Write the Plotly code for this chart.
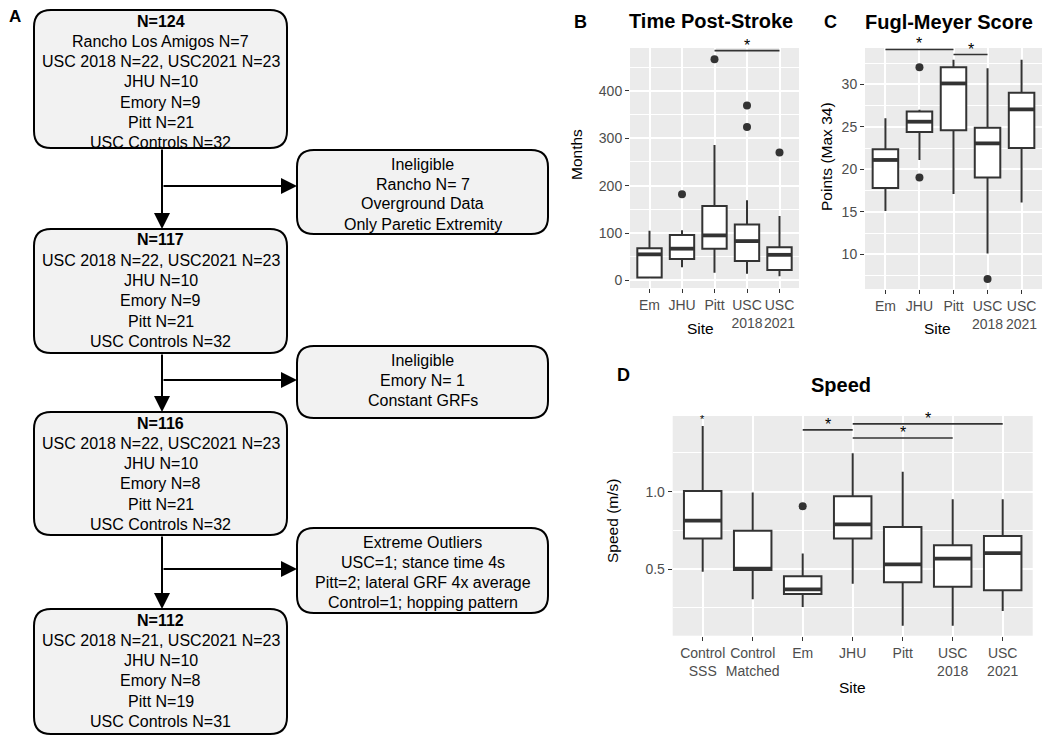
import plotly.graph_objects as go

# the page has an 8px body margin, so the figure is drawn 8px smaller
# and every reference pixel is shifted by that margin
PAGE_W, PAGE_H, PAD = 1050, 744, 8
W, H = PAGE_W - 2 * PAD, PAGE_H - 2 * PAD
FONT = "Arial, Liberation Sans, sans-serif"
DARK = "#333333"

# ---- panel B: time post-stroke (months)
b_sites = ["Em", "JHU", "Pitt", "USC<br>2018", "USC<br>2021"]
b_q1 = [6, 45, 67, 41, 22]
b_median = [55, 67, 95, 83, 54]
b_q3 = [68, 96, 157, 118, 70]
b_low = [6, 28, 16, 14, 9]
b_high = [105, 106, 286, 169, 136]
b_out_site = [1, 2, 3, 3, 4]
b_out_val = [182, 467, 369, 324, 270]
b_sig = [(2, 4, 485)]

# ---- panel C: Fugl-Meyer score
c_sites = ["Em", "JHU", "Pitt", "USC<br>2018", "USC<br>2021"]
c_q1 = [17.8, 24.4, 24.6, 19.05, 22.5]
c_median = [21.1, 25.6, 30.1, 23.05, 27.05]
c_q3 = [22.35, 26.8, 32.0, 24.9, 29.0]
c_low = [15.1, 21.1, 17.1, 10.1, 16.1]
c_high = [26.0, 27.0, 32.9, 31.9, 32.9]
c_out_site = [1, 1, 3]
c_out_val = [32.0, 19.05, 7.1]
c_sig = [(0, 2, 34.1), (2, 3, 33.5)]

# ---- panel D: speed (m/s)
d_sites = ["Control<br>SSS", "Control<br>Matched", "Em", "JHU", "Pitt", "USC<br>2018", "USC<br>2021"]
d_q1 = [0.698, 0.494, 0.338, 0.698, 0.414, 0.386, 0.362]
d_median = [0.8125, 0.502, 0.369, 0.789, 0.53, 0.567, 0.603]
d_q3 = [1.005, 0.748, 0.453, 0.971, 0.772, 0.653, 0.713]
d_low = [0.483, 0.304, 0.254, 0.405, 0.134, 0.134, 0.228]
d_high = [1.425, 0.994, 0.6, 1.248, 1.129, 0.951, 0.951]
d_out_site = [2]
d_out_val = [0.905]
d_sig = [(2, 3, 1.399), (3, 6, 1.438), (3, 5, 1.347)]
d_small_star = (0, 1.47)

# ---- panel A: flow chart text
main_boxes = [
    ["N=124", "Rancho Los Amigos N=7", "USC 2018 N=22, USC2021 N=23", "JHU N=10",
     "Emory N=9", "Pitt N=21", "USC Controls N=32"],
    ["N=117", "USC 2018 N=22, USC2021 N=23", "JHU N=10", "Emory N=9", "Pitt N=21",
     "USC Controls N=32"],
    ["N=116", "USC 2018 N=22, USC2021 N=23", "JHU N=10", "Emory N=8", "Pitt N=21",
     "USC Controls N=32"],
    ["N=112", "USC 2018 N=21, USC2021 N=23", "JHU N=10", "Emory N=8", "Pitt N=19",
     "USC Controls N=31"],
]
side_boxes = [
    ["Ineligible", "Rancho N= 7", "Overground Data", "Only Paretic Extremity"],
    ["Ineligible", "Emory N= 1", "Constant GRFs"],
    ["Extreme Outliers", "USC=1; stance time 4s", "Pitt=2; lateral GRF 4x average",
     "Control=1; hopping pattern"],
]

# pixel geometry of the flow chart (page pixels)
main_rects = [(34, 10, 287, 148), (34, 229, 287, 353), (34, 412, 287, 535), (34, 609, 287, 734)]
side_rects = [(297, 150, 548, 234), (297, 346, 548, 418), (297, 528, 548, 613)]
arrow_x = 162
branch_y = [186, 380, 569]


def px(x):
    return (x - PAD) / W


def py(y):
    return 1 - (y - PAD) / H


def rounded(x0, y0, x1, y1, r=17):
    return (f"M {px(x0 + r)},{py(y0)} L {px(x1 - r)},{py(y0)} "
            f"Q {px(x1)},{py(y0)} {px(x1)},{py(y0 + r)} L {px(x1)},{py(y1 - r)} "
            f"Q {px(x1)},{py(y1)} {px(x1 - r)},{py(y1)} L {px(x0 + r)},{py(y1)} "
            f"Q {px(x0)},{py(y1)} {px(x0)},{py(y1 - r)} L {px(x0)},{py(y0 + r)} "
            f"Q {px(x0)},{py(y0)} {px(x0 + r)},{py(y0)} Z")


fig = go.Figure()
shapes = []
annotations = []


def text(x, y, s, size, bold=False, angle=0):
    if bold:
        s = f"<b>{s}</b>"
    annotations.append(dict(
        x=px(x), y=py(y), xref="paper", yref="paper", text=s, showarrow=False,
        textangle=angle, xanchor="center", yanchor="middle",
        font=dict(family=FONT, size=size, color="black")))


# flow chart
for rect, lines in zip(main_rects, main_boxes):
    shapes.append(dict(type="path", path=rounded(*rect), xref="paper", yref="paper",
                       fillcolor="#F2F2F2", line=dict(color="black", width=2), layer="below"))
    for i, line in enumerate(lines):
        text((rect[0] + rect[2]) / 2, rect[1] + 11 + i * 20.3, line, 16, bold=(i == 0))

for rect, lines in zip(side_rects, side_boxes):
    shapes.append(dict(type="path", path=rounded(*rect), xref="paper", yref="paper",
                       fillcolor="#F2F2F2", line=dict(color="black", width=2), layer="below"))
    for i, line in enumerate(lines):
        text((rect[0] + rect[2]) / 2, rect[1] + 14 + i * 20, line, 16)

for k in range(3):
    top = main_rects[k][3]
    bottom = main_rects[k + 1][1]
    annotations.append(dict(x=px(arrow_x), y=py(bottom), xref="paper", yref="paper",
                            ax=0, ay=-(bottom - top), showarrow=True, arrowhead=2,
                            arrowsize=1.6, arrowwidth=2, arrowcolor="black", text=""))
    tip = side_rects[k][0]
    annotations.append(dict(x=px(tip), y=py(branch_y[k]), xref="paper", yref="paper",
                            ax=-(tip - arrow_x), ay=0, showarrow=True, arrowhead=2,
                            arrowsize=1.6, arrowwidth=2, arrowcolor="black", text=""))

text(14.6, 17, "A", 17, bold=True)

# box plot panels
panels = [
    dict(ax="", sites=b_sites, q1=b_q1, med=b_median, q3=b_q3, lo=b_low, hi=b_high,
         ox=b_out_site, oy=b_out_val, sig=b_sig,
         xdom=[630, 799], ydom=[48, 288], yrange=[-16, 490.5], dtick=100, minor=50, fmt="d"),
    dict(ax="2", sites=c_sites, q1=c_q1, med=c_median, q3=c_q3, lo=c_low, hi=c_high,
         ox=c_out_site, oy=c_out_val, sig=c_sig,
         xdom=[865, 1042], ydom=[48, 289], yrange=[5.92, 34.27], dtick=5, minor=2.5, fmt="d"),
    dict(ax="3", sites=d_sites, q1=d_q1, med=d_median, q3=d_q3, lo=d_low, hi=d_high,
         ox=d_out_site, oy=d_out_val, sig=d_sig,
         xdom=[672.7, 1032.7], ydom=[416, 635.7], yrange=[0.069, 1.489], dtick=0.5, minor=0.25,
         fmt=".1f"),
]

layout_axes = {}
for p in panels:
    n = len(p["sites"])
    pos = list(range(n))
    xa, ya = "x" + p["ax"], "y" + p["ax"]
    fig.add_trace(go.Box(
        x=pos, q1=p["q1"], median=p["med"], q3=p["q3"],
        lowerfence=p["lo"], upperfence=p["hi"],
        width=0.75, whiskerwidth=0, boxpoints=False,
        fillcolor="white", line=dict(color=DARK, width=2),
        xaxis=xa, yaxis=ya, showlegend=False, hoverinfo="skip"))
    fig.add_trace(go.Scatter(
        x=p["ox"], y=p["oy"], mode="markers",
        marker=dict(color=DARK, size=8), xaxis=xa, yaxis=ya,
        showlegend=False, hoverinfo="skip"))
    # thick ggplot-style median bars
    for i, m in enumerate(p["med"]):
        shapes.append(dict(type="line", xref=xa, yref=ya, x0=i - 0.375, x1=i + 0.375,
                           y0=m, y1=m, line=dict(color=DARK, width=3.8)))
    for a, b, y in p["sig"]:
        shapes.append(dict(type="line", xref=xa, yref=ya, x0=a, x1=b, y0=y, y1=y,
                           line=dict(color=DARK, width=1.6)))
        annotations.append(dict(x=(a + b) / 2, y=y, xref=xa, yref=ya, text="*",
                                showarrow=False, xanchor="center", yanchor="bottom", yshift=-5,
                                font=dict(family=FONT, size=16, color="black")))
    layout_axes["xaxis" + p["ax"]] = dict(
        domain=[px(p["xdom"][0]), px(p["xdom"][1])], range=[-0.6, n - 0.4],
        tickmode="array", tickvals=pos, ticktext=p["sites"], tickangle=0, anchor=ya,
        showgrid=True, gridcolor="white", gridwidth=1.6, zeroline=False,
        ticks="outside", ticklen=4, tickwidth=1.2, tickcolor=DARK,
        tickfont=dict(family=FONT, size=14, color="#4D4D4D"), fixedrange=True)
    layout_axes["yaxis" + p["ax"]] = dict(
        domain=[py(p["ydom"][1]), py(p["ydom"][0])], range=p["yrange"], anchor=xa,
        tick0=0, dtick=p["dtick"], tickformat=p["fmt"],
        showgrid=True, gridcolor="white", gridwidth=1.6, zeroline=False,
        minor=dict(dtick=p["minor"], tick0=0, showgrid=True, gridcolor="white", gridwidth=0.8),
        ticks="outside", ticklen=4, tickwidth=1.2, tickcolor=DARK,
        tickfont=dict(family=FONT, size=14, color="#4D4D4D"), fixedrange=True)

annotations.append(dict(x=d_small_star[0], y=d_small_star[1], xref="x3", yref="y3", text="*",
                        showarrow=False, xanchor="center", yanchor="middle",
                        font=dict(family=FONT, size=11, color="black")))

# titles, panel letters and axis titles
text(580, 21.7, "B", 18, bold=True)
text(711, 21, "Time Post-Stroke", 20, bold=True)
text(577, 155, "Months", 15.5, angle=-90)
text(700, 328, "Site", 15.5)

text(830, 22, "C", 18, bold=True)
text(949, 22, "Fugl-Meyer Score", 20, bold=True)
text(827, 157, "Points (Max 34)", 15.5, angle=-90)
text(937, 328, "Site", 15.5)

text(623.7, 375, "D", 18, bold=True)
text(841, 385, "Speed", 20, bold=True)
text(612, 521, "Speed (m/s)", 15.5, angle=-90)
text(852, 687, "Site", 15.5)

fig.update_layout(
    width=W, height=H, margin=dict(l=0, r=0, t=0, b=0),
    paper_bgcolor="white", plot_bgcolor="#EBEBEB",
    font=dict(family=FONT), shapes=shapes, annotations=annotations,
    **layout_axes)

fig.write_html("out.html")
